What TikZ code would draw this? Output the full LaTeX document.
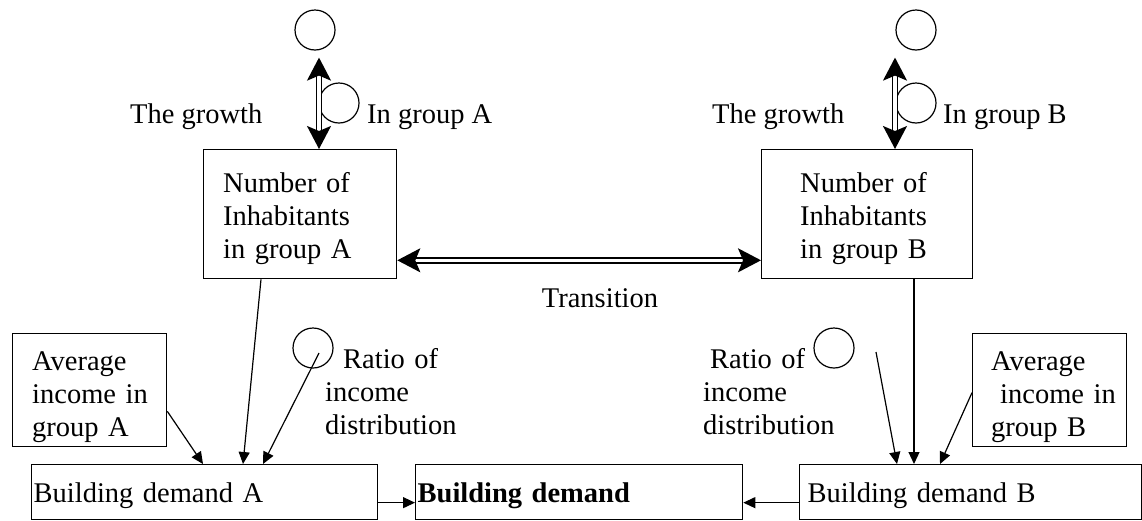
\documentclass[tikz,border=0pt]{standalone}
\usepackage{fontspec}
\setmainfont{Liberation Serif}
\usetikzlibrary{arrows.meta,calc}
\begin{document}
\begin{tikzpicture}[x=1pt,y=-1pt,
  every node/.style={font=\fontsize{28.5}{33}\selectfont},
  frame/.style={draw,line width=1.3pt,inner sep=0pt,anchor=north west},
  box/.style={frame,align=left,text depth=0pt,text height=21pt,minimum height=55pt},
  circ/.style={draw,circle,line width=1.2pt,minimum size=40pt,inner sep=0pt},
  lbl/.style={anchor=base west,inner sep=0pt},
  lines/.style={anchor=base west,inner sep=0pt,align=left,text width=150pt},
  con/.style={line width=1.2pt,-{Triangle[length=12pt,width=11pt]}},
  dbl/.style={double,double distance=3.5pt,line width=1.7pt,
    {Stealth[length=23pt,width=24pt,inset=5pt]}-{Stealth[length=23pt,width=24pt,inset=5pt]}}]
\useasboundingbox (0,0) rectangle (1142,520);

% population stocks
\node[frame,minimum width=193pt,minimum height=129pt] (nA) at (203,149) {};
\node[lines] (nAtxt) at (223,192) {Number of\\Inhabitants\\in group A};
\node[frame,minimum width=211pt,minimum height=129pt] (nB) at (761,149) {};
\node[lines] (nBtxt) at (800,192) {Number of\\Inhabitants\\in group B};

% income boxes
\node[frame,minimum width=154pt,minimum height=113pt] (avA) at (12,333) {};
\node[lines] (avAtxt) at (32,370) {Average\\income in\\group A};
\node[frame,minimum width=154pt,minimum height=113pt] (avB) at (972,333) {};
\node[lines] (avBtxt) at (991,370) {Average\\\hspace*{9pt}income in\\group B};

% demand boxes
\node[box,text width=342pt,inner xsep=2pt] (bdA) at (31,464) {Building demand A};
\node[box,text width=323pt,inner xsep=2pt] (bd) at (415,464) {\textbf{Building demand}};
\node[box,text width=326pt,inner xsep=8pt] (bdB) at (799,464) {Building demand B};

% auxiliary variables (circles)
\node[circ] (gA) at (315,30) {};
\node[circ] (iA) at (339,103) {};
\node[circ] (gB) at (916,30) {};
\node[circ] (iB) at (916,103) {};
\node[circ] (rA) at (313,348) {};
\node[circ] (rB) at (834,348) {};

% labels
\node[lbl] (growA) at (130,123) {The growth};
\node[lbl] (inA) at (367,123) {In group A};
\node[lbl] (growB) at (712,123) {The growth};
\node[lbl] (inB) at (943,123) {In group B};
\node[lbl,anchor=base] (tr) at (600,307) {Transition};
\node[lines] (ratA) at (325,368) {\hspace*{18pt}Ratio of\\income\\distribution};
\node[lines] (ratB) at (703,368) {\hspace*{7pt}Ratio of\\income\\distribution};

% growth flows and transition
\coordinate (gAtip) at ($(gA.south)+(4,7)$);
\draw[dbl] (gAtip) -- (gAtip |- nA.north);
\coordinate (gBtip) at ($(gB.south)+(-21,7)$);
\draw[dbl] (gBtip) -- (gBtip |- nB.north);
\coordinate (trA) at ($(nA.south east)+(0,-19)$);
\draw[dbl] (trA) -- (trA -| nB.west);

% influences on building demand A
\draw[con] ($(nA.south west)+(58,0)$) -- ($(bdA.north west)+(212,0)$);
\draw[con] ($(rA.center)+(6,5)$) -- ($(bdA.north west)+(232,0)$);
\draw[con] ($(avA.south east)+(0,-36)$) -- ($(bdA.north west)+(172,0)$);

% influences on building demand B
\draw[con] ($(nB.south west)+(153,0)$) -- ($(bdB.north west)+(115,0)$);
\coordinate (rBfree) at (876,352);
\draw[con] (rBfree) -- ($(bdB.north west)+(98,0)$);
\draw[con] ($(avB.west)+(0,2.5)$) -- ($(bdB.north west)+(141,0)$);

% totals
\draw[con] ($(bdA.east)+(0,10.5)$) -- ($(bd.west)+(0,10.5)$);
\draw[con] ($(bdB.west)+(0,10.5)$) -- ($(bd.east)+(0,10.5)$);
\end{tikzpicture}
\end{document}
